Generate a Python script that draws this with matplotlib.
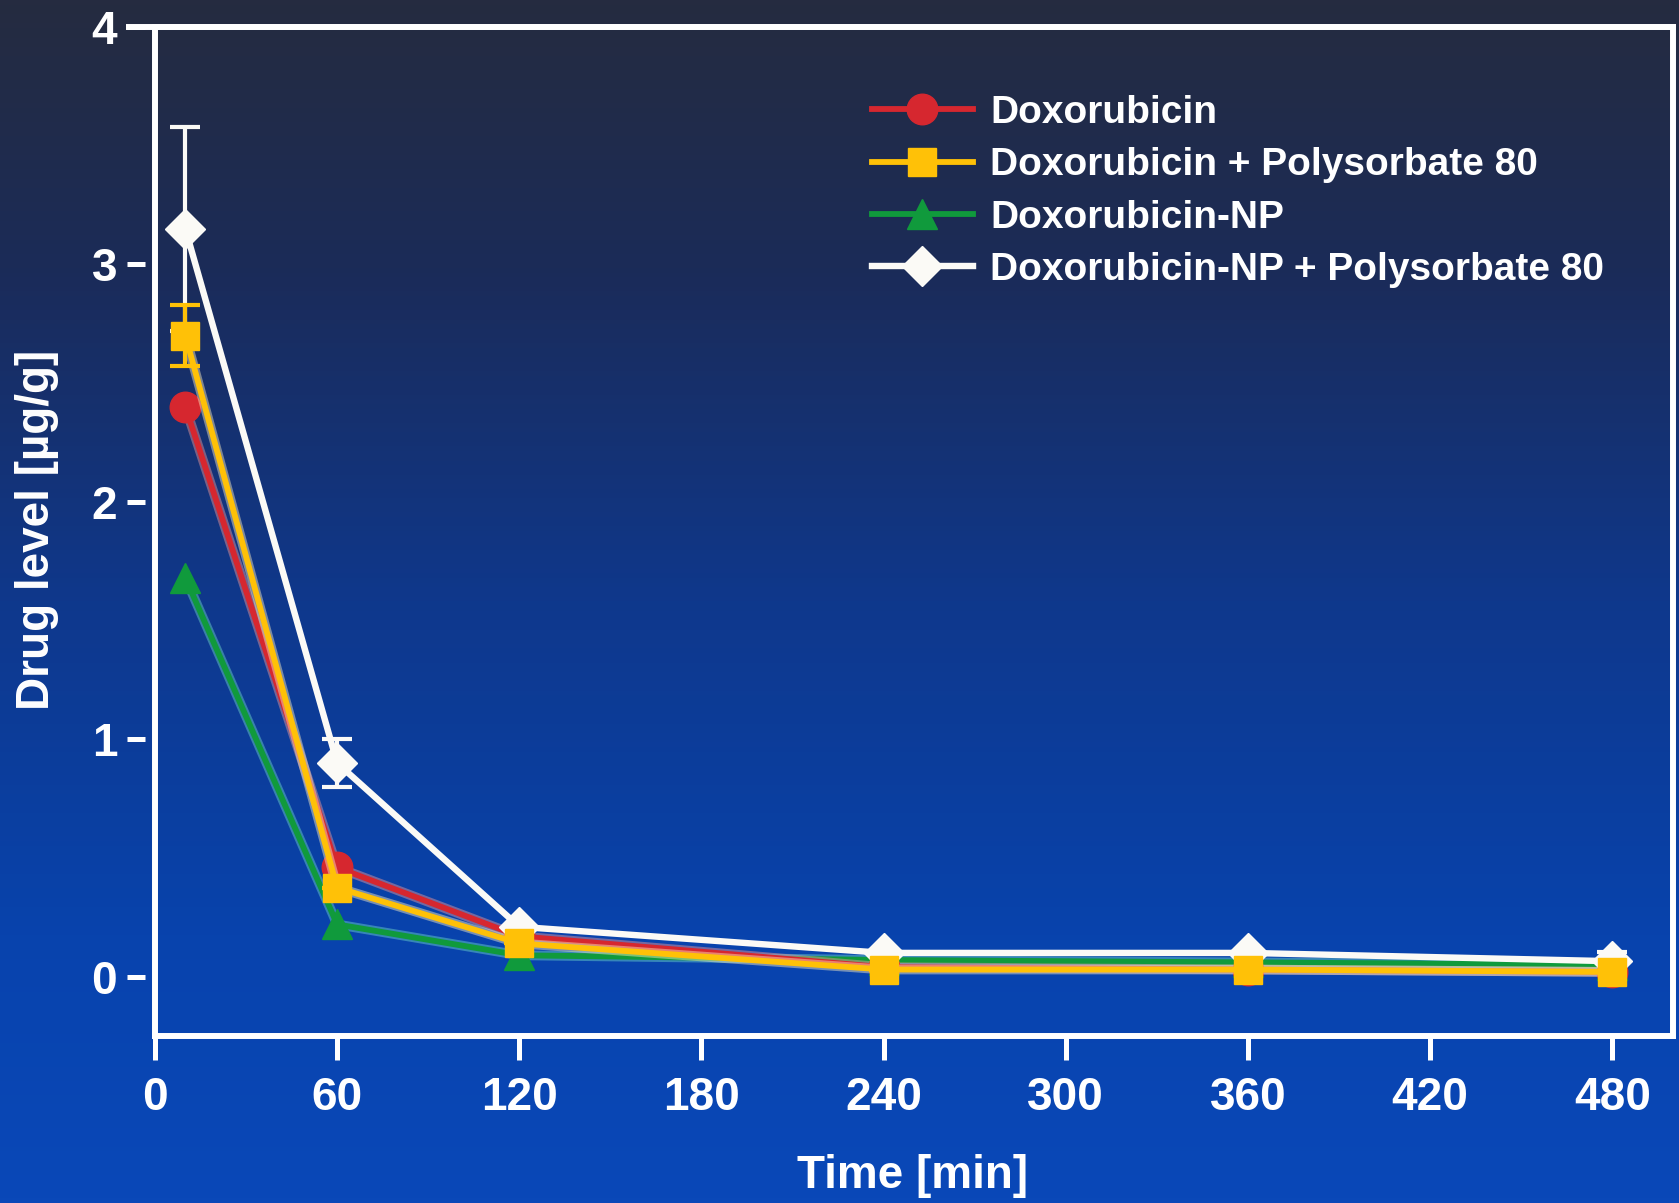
"""Brain drug levels after i.v. doxorubicin formulations."""

import numpy as np
import matplotlib
matplotlib.use("Agg")
import matplotlib.pyplot as plt
from matplotlib.colors import LinearSegmentedColormap
from matplotlib.lines import Line2D

# Sampling times (min)
time_min = [10, 60, 120, 240, 360, 480]

# Drug level in brain (ug/g) per formulation
dox = [2.40, 0.46, 0.17, 0.04, 0.03, 0.02]
dox_ps80 = [2.70, 0.375, 0.14, 0.03, 0.03, 0.02]
dox_np = [1.68, 0.22, 0.09, 0.07, 0.06, 0.05]
dox_np_ps80 = [3.15, 0.90, 0.21, 0.10, 0.10, 0.065]

# Standard deviations (only the visible ones)
dox_ps80_err = [0.13, 0.0, 0.0, 0.0, 0.0, 0.0]
dox_np_ps80_err = [0.43, 0.10, 0.0, 0.0, 0.0, 0.04]

labels = ["Doxorubicin", "Doxorubicin + Polysorbate 80",
          "Doxorubicin-NP", "Doxorubicin-NP + Polysorbate 80"]

x_ticks = [0, 60, 120, 180, 240, 300, 360, 420, 480]
y_ticks = [0, 1, 2, 3, 4]

plt.rcParams["font.family"] = ["Liberation Sans", "DejaVu Sans"]
plt.rcParams["font.weight"] = "bold"

W, H = 1679, 1203
fig = plt.figure(figsize=(W / 100, H / 100), dpi=100)

# slide background: dark navy at the top fading to bright blue
bg = fig.add_axes([0, 0, 1, 1])
bg_cmap = LinearSegmentedColormap.from_list(
    "slide", [(0.0, "#252b40"), (0.22, "#1b2b58"), (0.5, "#0f388c"),
              (0.78, "#0843ad"), (1.0, "#0a48b8")])
grad = np.linspace(0, 1, 256).reshape(-1, 1)
bg.imshow(grad, aspect="auto", cmap=bg_cmap, extent=[0, 1, 0, 1], origin="upper")
bg.set_axis_off()

left, right, top, bottom = 155, 1673, 27, 1036
ax = fig.add_axes([left / W, 1 - bottom / H, (right - left) / W, (bottom - top) / H])
ax.patch.set_alpha(0)
ax.set_xlim(0, 500)
ax.set_ylim(-0.25, 4)

frame_lw = 4.3
for side in ["top", "right", "bottom"]:
    ax.spines[side].set_color("white")
    ax.spines[side].set_linewidth(frame_lw)
# y ticks sit on an offset axis left of the box
ax.spines["left"].set_position(("outward", 10 * 0.72))
ax.spines["left"].set_visible(False)
ax.add_line(Line2D([0, 0], [0, 1], transform=ax.transAxes, color="white",
                   lw=frame_lw, solid_capstyle="projecting", clip_on=False))
ax.add_line(Line2D([-0.019, 1], [1, 1], transform=ax.transAxes, color="white",
                   lw=frame_lw, solid_capstyle="butt", clip_on=False))

ax.set_xticks(x_ticks)
ax.set_yticks(y_ticks)
ax.tick_params(axis="x", direction="out", length=17, width=3.6, color="white",
               labelcolor="white", labelsize=33, pad=12)
ax.tick_params(axis="y", direction="out", length=13, width=3.6, color="white",
               labelcolor="white", labelsize=33, pad=7)

series = [
    (dox, "#d6272f", "#f59a9a", "o", 22, None, 3),
    (dox_ps80, "#ffc107", "#fff0c0", "s", 20, dox_ps80_err, 5),
    (dox_np, "#109a3c", "#70d8c8", "^", 21, None, 2),
    (dox_np_ps80, "#fbfaf6", None, "D", 20, dox_np_ps80_err, 4),
]
handles = []
for (vals, color, halo, marker, ms, err, z), label in zip(series, labels):
    if halo is not None:
        # soft light rim under the coloured lines
        ax.plot(time_min, vals, color=halo, lw=7, alpha=0.45, zorder=z,
                solid_joinstyle="round")
    if err is not None:
        ax.errorbar(time_min, vals, yerr=err, fmt="none", ecolor=color,
                    elinewidth=3, capsize=11, capthick=3, zorder=z)
    line, = ax.plot(time_min, vals, color=color, lw=4.6 if halo is None else 4.2,
                    marker=marker, ms=ms, mec=color, mfc=color,
                    zorder=z + 0.5, label=label)
    handles.append(line)

leg = ax.legend(handles=handles, loc="upper left", bbox_to_anchor=(0.462, 0.948),
                frameon=False, fontsize=28, handlelength=2.6, handletextpad=0.45,
                labelspacing=0.42, borderaxespad=0)
for text in leg.get_texts():
    text.set_color("white")
    text.set_fontweight("bold")

fig.text(37 / W, 1 - 530 / H, "Drug level [µg/g]", rotation=90, color="white",
         fontsize=33, ha="center", va="center")
fig.text(913 / W, 1 - 1176 / H, "Time [min]", color="white",
         fontsize=33, ha="center", va="center")

fig.savefig("out.png", dpi=100)
plt.close(fig)
